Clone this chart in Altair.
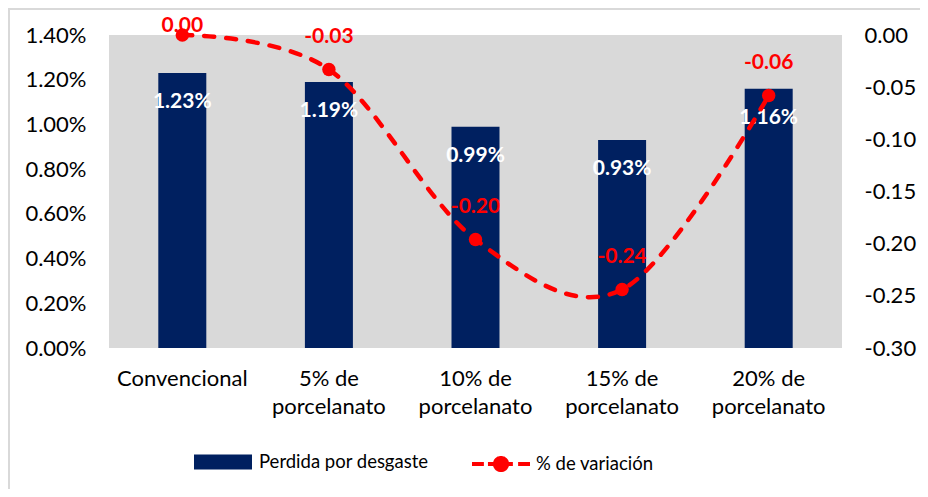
import altair as alt
import pandas as pd

# ---- data ----
categories = ["Convencional", "5% de|porcelanato", "10% de|porcelanato",
              "15% de|porcelanato", "20% de|porcelanato"]
perdida = [0.0123, 0.0119, 0.0099, 0.0093, 0.0116]          # Perdida por desgaste
variacion = [0.0, -0.033, -0.196, -0.244, -0.058]          # % de variación
left_ticks = [0.0, 0.002, 0.004, 0.006, 0.008, 0.010, 0.012, 0.014]
right_ticks = [0.0, -0.05, -0.10, -0.15, -0.20, -0.25, -0.30]
bar_series = "Perdida por desgaste"
line_series = "% de variación"

FONT = "Lato"
NAVY = "#002060"
RED = "#FF0000"
MINUS = "\u2212"

df = pd.DataFrame({
    "cat": categories,
    "perdida": perdida,
    "variacion": variacion,
    "s_bar": [bar_series] * len(categories),
    "s_line": [line_series] * len(categories),
})

x = alt.X("cat:N", sort=categories, title=None,
          scale=alt.Scale(paddingInner=0.0, paddingOuter=0.0),
          axis=alt.Axis(labelExpr="split(datum.label, '|')", labelAngle=0,
                        labelFont=FONT, labelFontSize=22, labelColor="#000000",
                        labelBaseline="top", labelLineHeight=28, labelPadding=20,
                        ticks=False, domain=False, grid=False))

left_axis = alt.Axis(values=left_ticks, format=".2%", orient="left",
                     labelFont=FONT, labelFontSize=22, labelColor="#000000",
                     labelPadding=23, ticks=False, domain=False, grid=False)
left_scale = alt.Scale(domain=[0, 0.014], nice=False, zero=True)

right_axis = alt.Axis(values=right_ticks, orient="right",
                      labelExpr=f"replace(format(datum.value, '.2f'), '{MINUS}', '-')",
                      labelFont=FONT, labelFontSize=22, labelColor="#000000",
                      labelPadding=22, ticks=False, domain=False, grid=False)
right_scale = alt.Scale(domain=[-0.30, 0.0], nice=False, zero=False)

base = alt.Chart(df)

bars = base.mark_bar(size=48).encode(
    x=x,
    y=alt.Y("perdida:Q", title=None, scale=left_scale, axis=left_axis),
    fill=alt.Fill("s_bar:N",
                  scale=alt.Scale(domain=[bar_series], range=[NAVY]),
                  legend=alt.Legend(title=None, orient="none", legendX=85, legendY=398,
                                    symbolType="M-1,-0.26L1,-0.26L1,0.26L-1,0.26Z",
                                    symbolSize=3364, symbolStrokeWidth=0,
                                    labelFont=FONT, labelFontSize=18.5, labelColor="#000000",
                                    labelOffset=7, labelLimit=400, padding=0)),
)

bar_text = base.mark_text(font=FONT, fontSize=21, fontWeight="bold", color="white",
                          baseline="middle", dy=29).encode(
    x=x,
    y=alt.Y("perdida:Q", title=None, scale=left_scale, axis=left_axis),
    text=alt.Text("perdida:Q", format=".2%"),
)

frame = alt.Chart(alt.Data(values=[{"k": 1}])).mark_rect(
    filled=False, stroke="#d9d9d9", strokeWidth=2).encode(
    x=alt.value(-100), x2=alt.value(830), y=alt.value(-26), y2=alt.value(470))

bars_layer = alt.layer(frame, bars, bar_text)

line = base.mark_line(interpolate="cardinal", strokeWidth=4.5, strokeDash=[10, 12],
                      strokeCap="round").encode(
    x=x,
    y=alt.Y("variacion:Q", title=None, scale=right_scale, axis=right_axis),
    stroke=alt.Stroke("s_line:N",
                      scale=alt.Scale(domain=[line_series], range=[RED]),
                      legend=alt.Legend(title=None, orient="none", legendX=361, legendY=398,
                                        symbolType="M-1,0L-0.59,0M-0.45,0L-0.24,0M0.17,0L0.41,0M0.59,0L1,0M0.21,0A0.21,0.21,0,1,1,-0.21,0A0.21,0.21,0,1,1,0.21,0Z",
                                        symbolSize=3364, symbolStrokeWidth=4,
                                        symbolFillColor=RED, symbolStrokeColor=RED,
                                        symbolDash=[1, 0],
                                        labelFont=FONT, labelFontSize=18.5, labelColor="#000000",
                                        labelOffset=4, labelLimit=400, padding=0)),
)

points = base.mark_circle(size=180, color=RED, opacity=1).encode(
    x=x, y=alt.Y("variacion:Q", title=None, scale=right_scale, axis=right_axis))

line_text = base.transform_calculate(
    ly="min(datum.variacion + 0.031, 0.009)",
    lbl=f"replace(format(datum.variacion, '.2f'), '{MINUS}', '-')",
).mark_text(font=FONT, fontSize=21, fontWeight="bold", color=RED, baseline="middle").encode(
    x=x,
    y=alt.Y("ly:Q", title=None, scale=right_scale, axis=right_axis),
    text=alt.Text("lbl:N"),
)

line_layer = alt.layer(line, points, line_text)

chart = alt.layer(bars_layer, line_layer).resolve_scale(
    y="independent"
).properties(
    width=733, height=313,
    background="white",
    autosize=alt.AutoSizeParams(type="none"),
    padding={"left": 101, "top": 27, "right": 78, "bottom": 141},
).configure_view(fill="#d9d9d9", stroke=None)

chart.save("out.html", embed_options={"renderer": "svg", "actions": False})
